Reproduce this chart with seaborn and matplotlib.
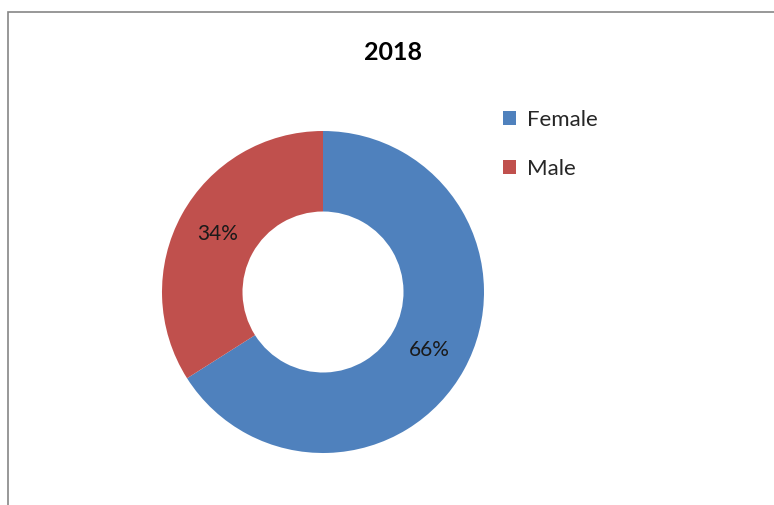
import matplotlib
matplotlib.use("Agg")
import matplotlib.pyplot as plt
from matplotlib.patches import Patch, Rectangle
import seaborn as sns

# data
title = "2018"
labels = ["Female", "Male"]
shares = [66, 34]
colors = ["#4F81BD", "#C0504D"]

sns.set_theme(style="white")
plt.rcParams['font.family'] = ['Lato', 'DejaVu Sans']

fig = plt.figure(figsize=(7.74, 5.05), dpi=100)
fig.patch.set_facecolor("white")

# chart border (top and left visible, runs off right/bottom)
fig.add_artist(Rectangle((7.5 / 774, -0.05), 1.2, (505 - 12) / 505 + 0.05,
                         transform=fig.transFigure, fill=False,
                         edgecolor="#868686", linewidth=1.2))

ax = fig.add_axes([(323 - 161) / 774, (505 - 292 - 161) / 505, 322 / 774, 322 / 505])
wedges, texts, autotexts = ax.pie(
    shares, colors=colors, startangle=90, counterclock=False,
    autopct=lambda p: f"{p:.0f}%", pctdistance=0.75,
    wedgeprops=dict(width=0.5, linewidth=0),
    textprops=dict(fontsize=15, color="#1a1a1a"),
)
ax.set_xlim(-1, 1)
ax.set_ylim(-1, 1)
ax.set_aspect("equal")

fig.text(393 / 774, 1 - 52 / 505, title, ha="center", va="center",
         fontsize=18, fontweight="bold", color="black")

handles = [Patch(facecolor=c, edgecolor="none") for c in colors]
fig.legend(handles, labels, loc="upper left", bbox_to_anchor=(503 / 774, 1 - 110 / 505),
           frameon=False, fontsize=16, handlelength=0.6, handleheight=0.6,
           handletextpad=0.5, labelspacing=1.3, borderpad=0, borderaxespad=0)

fig.savefig("out.png", dpi=100, facecolor="white")
